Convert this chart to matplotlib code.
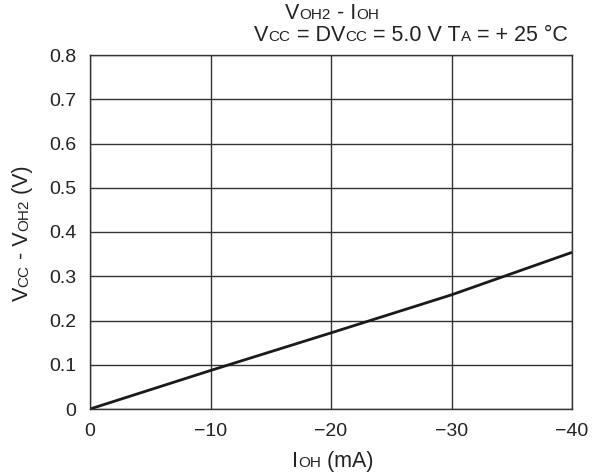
import matplotlib
matplotlib.use("Agg")
import matplotlib.pyplot as plt

ioh = [0, -10, -20, -30, -40]
vdrop = [0.0, 0.087, 0.172, 0.258, 0.354]
xticks = [0, -10, -20, -30, -40]
xticklabels = ["0", "\u221210", "\u221220", "\u221230", "\u221240"]
yticks = [0, 0.1, 0.2, 0.3, 0.4, 0.5, 0.6, 0.7, 0.8]
yticklabels = ["0", "0.1", "0.2", "0.3", "0.4", "0.5", "0.6", "0.7", "0.8"]

FONT = "Liberation Sans"
TICK = 14
BIG = 15.5
SMALL = 11
W, H = 599, 476

fig = plt.figure(figsize=(W / 100, H / 100), dpi=100)
ax = fig.add_axes([90 / W, (H - 409) / H, 482 / W, 354 / H])
ax.plot(ioh, vdrop, color="#1a1a1a", lw=2.0, solid_capstyle="butt")
ax.set_xlim(0, -40)
ax.set_ylim(0, 0.8)
ax.set_xticks(xticks)
ax.set_xticklabels(xticklabels, family=FONT, fontsize=TICK)
ax.set_yticks(yticks)
ax.set_yticklabels(yticklabels, family=FONT, fontsize=TICK)
ax.tick_params(length=0, pad=10, colors="#222222")
ax.grid(True, color="#333333", lw=1.0)
for s in ax.spines.values():
    s.set_color("#333333")
    s.set_linewidth(1.0)

fig.canvas.draw()
renderer = fig.canvas.get_renderer()


def draw_pieces(pieces, x_px, y_px, rotation=0):
    """Draw pieces of text on a common baseline, centered at x_px (or y_px if rotated)."""
    widths = []
    for s, size in pieces:
        t = fig.text(0, 0, s, family=FONT, fontsize=size)
        bb = t.get_window_extent(renderer)
        widths.append(bb.width)
        t.remove()
    total = sum(widths)
    pos = -total / 2
    for (s, size), w in zip(pieces, widths):
        if rotation == 0:
            fig.text((x_px + pos) / W, 1 - y_px / H, s, family=FONT, fontsize=size,
                     ha="left", va="baseline", color="#222222")
        else:
            fig.text(x_px / W, 1 - (y_px - pos) / H, s, family=FONT, fontsize=size,
                     ha="left", va="baseline", rotation=90, rotation_mode="anchor",
                     color="#222222")
        pos += w


draw_pieces([("V", BIG), ("OH2", SMALL), (" - I", BIG), ("OH", SMALL)], 332, 19)
draw_pieces([("V", BIG), ("CC", SMALL), (" = DV", BIG), ("CC", SMALL),
             (" = 5.0 V T", BIG), ("A", SMALL), (" = + 25 \u00b0C", BIG)], 411, 41)
draw_pieces([("I", BIG), ("OH", SMALL), (" (mA)", BIG)], 333, 467)
draw_pieces([("V", BIG), ("CC", SMALL), (" - V", BIG), ("OH2", SMALL), (" (V)", BIG)], 28, 233,
            rotation=90)

fig.savefig("out.png", dpi=100)
